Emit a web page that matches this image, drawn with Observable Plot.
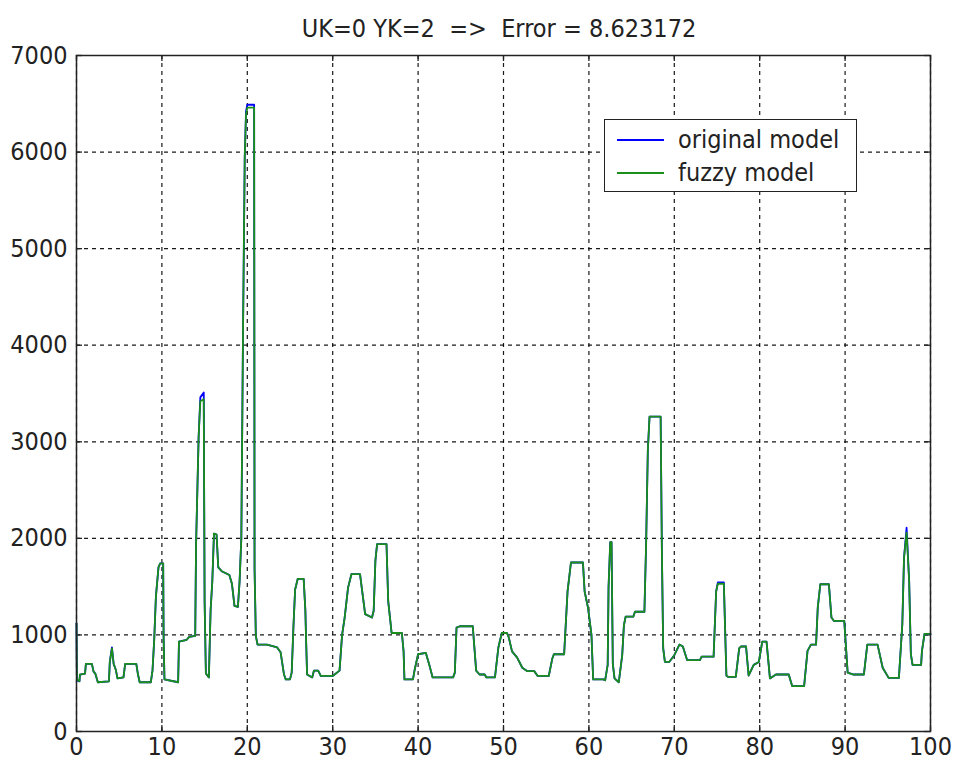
<!DOCTYPE html>
<html><head><meta charset="utf-8">
<script src="https://cdn.jsdelivr.net/npm/d3@7"></script>
<script src="https://cdn.jsdelivr.net/npm/@observablehq/plot@0.6"></script>
<style>
body{margin:0;background:#fff;}
#wrap{position:relative;width:954px;height:765px;font-family:"Liberation Sans Narrow","DejaVu Sans Condensed","Arial Narrow",sans-serif;color:#222;}
#title{position:absolute;left:72px;top:14px;width:854px;text-align:center;font-size:25px;white-space:pre;}
#legend{position:absolute;left:604px;top:119px;width:251px;height:71px;border:1.5px solid #222;background:#fff;}
.row{position:absolute;left:0;height:30px;width:100%;}
.sw{position:absolute;left:12px;width:47px;height:2px;top:14px;}
.lab{position:absolute;left:73px;top:0;font-size:25px;line-height:30px;white-space:pre;}
#chart{position:absolute;left:0;top:0;}
</style>
</head><body>
<div id="wrap">
<div id="chart"></div>
<div id="title">UK=0 YK=2  =&gt;  Error = 8.623172</div>
<div id="legend">
  <div class="row" style="top:5px"><div class="sw" style="background:#0000ff"></div><div class="lab">original model</div></div>
  <div class="row" style="top:38px"><div class="sw" style="background:#1a8f1a"></div><div class="lab">fuzzy model</div></div>
</div>
</div>
<script>
const xs = [0,0.05,0.35,0.4,1.0,1.1,1.8,2.0,2.2,2.5,3.8,3.9,4.15,4.35,4.6,4.8,5.5,5.7,7.0,7.2,7.4,8.7,8.9,9.1,9.3,9.6,9.8,10.15,10.2,10.3,11.9,12.0,12.9,13.2,13.9,14.0,14.3,14.5,14.9,15.0,15.15,15.5,15.7,15.9,16.1,16.4,16.6,17.0,17.9,18.2,18.5,18.9,19.1,19.3,19.5,19.7,19.85,20.0,20.8,20.85,21.0,21.2,22.3,23.5,23.9,24.3,24.5,25.0,25.2,25.4,25.6,25.9,26.6,26.8,26.9,27.0,27.6,27.8,28.3,28.6,30.0,30.8,31.1,31.4,31.8,32.2,33.2,33.4,33.8,34.6,34.8,35.0,35.2,36.3,36.5,36.9,38.1,38.3,38.4,39.4,39.6,40.0,40.9,41.3,41.7,44.1,44.3,44.5,44.9,46.4,46.8,47.2,47.8,48.0,49.0,49.4,49.8,50.4,50.6,51.0,51.6,52.2,52.8,53.6,54.0,55.3,55.7,55.9,57.1,57.5,57.9,59.3,59.5,59.9,60.3,60.5,61.7,61.9,62.2,62.3,62.5,62.65,62.8,63.0,63.5,63.9,64.1,64.3,65.2,65.4,66.5,66.7,66.9,67.1,68.4,68.55,68.7,68.9,69.4,70.0,70.6,71.0,71.5,73.0,73.2,74.6,74.9,75.1,75.8,76.1,76.3,77.2,77.6,77.8,78.4,78.7,79.3,79.9,80.3,80.8,81.2,81.9,83.4,83.8,85.2,85.6,86.0,86.6,86.8,87.1,88.1,88.4,88.7,89.9,90.3,91.0,92.2,92.6,93.8,94.4,95.1,96.3,96.7,96.9,97.2,97.5,97.7,97.9,98.9,99.0,99.3,100];
const original = [1120,530,520,590,600,700,700,620,600,510,520,720,870,700,640,550,560,700,700,590,510,510,630,950,1400,1700,1740,1740,980,540,510,930,950,980,990,1930,3050,3460,3510,1350,600,560,1250,1550,2050,2040,1700,1660,1620,1530,1300,1290,1560,2000,4150,5950,6420,6490,6490,1680,990,900,900,870,820,590,540,540,610,1080,1470,1580,1580,1250,900,590,560,630,630,575,575,630,1000,1180,1490,1630,1630,1490,1215,1180,1250,1770,1940,1940,1350,1020,1020,830,540,540,640,800,815,695,560,560,610,1075,1090,1090,630,590,590,560,560,870,1020,1020,980,830,765,660,625,625,575,575,750,800,800,1450,1750,1750,1450,1280,1000,540,540,530,690,1490,1960,1960,700,550,510,790,1100,1190,1190,1240,1240,1940,2910,3260,3260,1835,860,720,720,790,900,880,740,740,775,775,1450,1545,1545,580,565,565,860,880,880,580,690,720,930,930,550,590,590,470,470,835,900,900,1285,1525,1525,1180,1145,1145,610,590,590,900,900,660,555,555,1110,1800,2110,1560,800,690,690,835,1010,1010];
const fuzzy = [1120,540,520,590,600,700,700,620,600,510,520,720,860,700,640,550,560,700,700,590,510,510,630,950,1400,1700,1740,1740,980,540,510,930,950,980,990,1930,3050,3420,3440,1350,600,560,1250,1550,2050,2040,1700,1660,1620,1530,1300,1290,1560,2000,4150,5950,6390,6460,6460,1680,990,900,900,870,820,590,540,540,610,1080,1470,1580,1580,1250,900,590,560,630,630,575,575,630,1000,1180,1490,1630,1630,1490,1215,1180,1250,1770,1940,1940,1350,1020,1020,830,540,540,640,800,815,695,560,560,610,1075,1090,1090,630,590,590,560,560,870,1020,1020,980,830,765,660,625,625,575,575,750,800,800,1450,1750,1750,1450,1280,1000,540,540,530,690,1490,1960,1960,700,550,510,790,1100,1190,1190,1240,1240,1940,2910,3260,3260,1835,860,720,720,790,900,880,740,740,775,775,1450,1530,1530,580,565,565,860,880,880,580,690,720,930,930,550,590,590,470,470,835,900,900,1285,1525,1525,1180,1145,1145,610,590,590,900,900,660,555,555,1110,1800,2060,1560,800,690,690,835,1010,1010];
const xTicks = [0,10,20,30,40,50,60,70,80,90,100];
const yTicks = [0,1000,2000,3000,4000,5000,6000,7000];

const data = xs.map((x, i) => ({x, original: original[i], fuzzy: fuzzy[i]}));
const font = '"Liberation Sans Narrow","DejaVu Sans Condensed","Arial Narrow",sans-serif';
const W = 954, H = 765, mL = 76, mR = 24, mT = 55, mB = 34;
const fw = W - mL - mR, fh = H - mT - mB;

const chart = Plot.plot({
  width: W, height: H,
  marginLeft: mL, marginRight: mR, marginTop: mT, marginBottom: mB,
  style: {fontFamily: font, fontSize: "25px", color: "#222", background: "#fff"},
  x: {domain: [0, 100]},
  y: {domain: [0, 7000]},
  marks: [
    Plot.gridX(xTicks, {stroke: "#000", strokeOpacity: 0.9, strokeDasharray: "4,4", strokeWidth: 1.2}),
    Plot.gridY(yTicks, {stroke: "#000", strokeOpacity: 0.9, strokeDasharray: "4,4", strokeWidth: 1.2}),
    Plot.tickX(xTicks, {x: d => d, insetTop: fh - 6, stroke: "#222", strokeWidth: 1.3}),
    Plot.tickX(xTicks, {x: d => d, insetBottom: fh - 6, stroke: "#222", strokeWidth: 1.3}),
    Plot.tickY(yTicks, {y: d => d, insetRight: fw - 6, stroke: "#222", strokeWidth: 1.3}),
    Plot.tickY(yTicks, {y: d => d, insetLeft: fw - 6, stroke: "#222", strokeWidth: 1.3}),
    Plot.line(data, {x: "x", y: "original", stroke: "#0000ff", strokeWidth: 1.8}),
    Plot.line(data, {x: "x", y: "fuzzy", stroke: "#1a8f1a", strokeWidth: 1.8}),
    Plot.frame({stroke: "#222", strokeWidth: 1.5}),
    Plot.axisX({ticks: xTicks, tickSize: 0, tickPadding: 6, fontSize: 25, label: null, tickFormat: d => String(d)}),
    Plot.axisY({ticks: yTicks, tickSize: 0, tickPadding: 9, fontSize: 25, label: null, tickFormat: d => String(d)})
  ]
});
document.getElementById("chart").appendChild(chart);
</script>
</body></html>
